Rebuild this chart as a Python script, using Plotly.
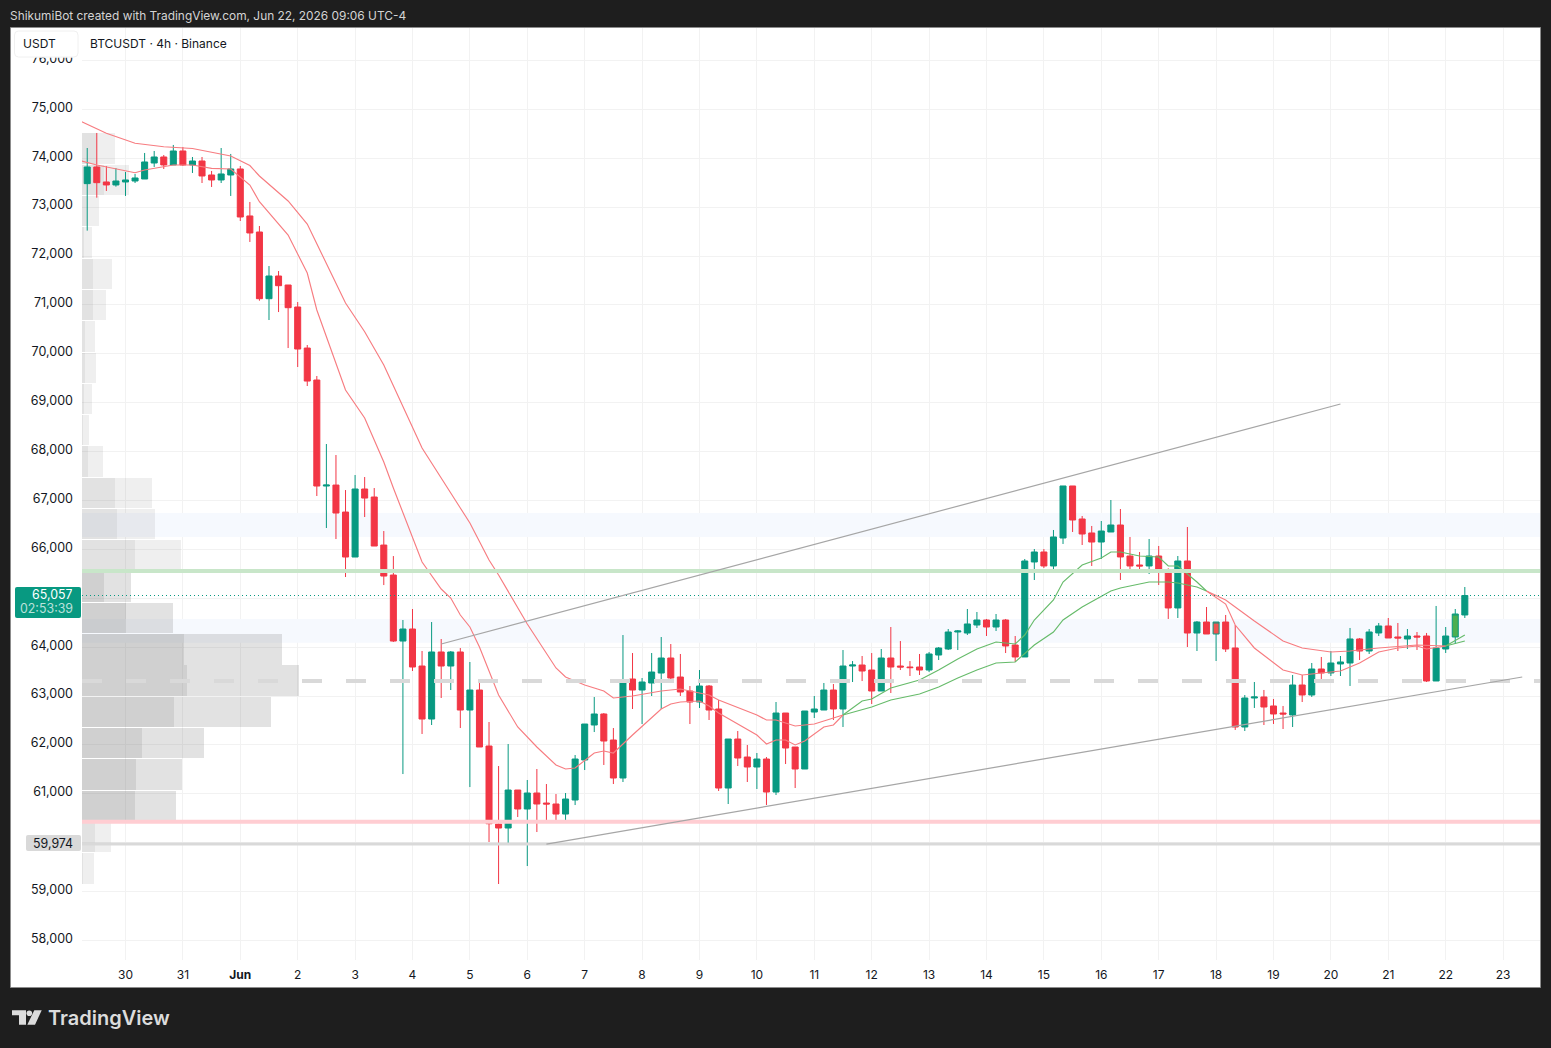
import pandas as pd
import plotly.graph_objects as go

# Four-hour BTCUSDT bars, oldest first
opens = [73480,73821,73514,73453,73514,73534,73575,73902,74025,73862,74148,73862,73943,73657,73555,73657,73780,72819,72491,71127,
         71591,71407,70957,70118,69464,67296,67316,66764,65844,67235,67071,66089,65476,64126,64372,63615,62531,63902,63615,63902,
         62715,63124,61979,60384,60302,61079,60691,61018,60813,60793,60588,60875,61693,62409,62634,62102,61325,63349,63124,63268,
         63472,63779,63390,63104,62879,63206,62736,61120,62122,61754,61550,61713,61038,62654,61959,61509,62674,62715,63124,62736,
         63615,63636,63533,63104,63779,63615,63595,63595,63533,63840,63963,64311,64290,64454,64556,64413,64556,64045,63800,65743,
         65947,65661,66233,67297,66622,66336,66151,66356,66499,65865,65681,65661,65865,65579,64802,65763,64290,64515,64270,64515,
         63984,62368,62961,62982,62798,62654,62614,63227,63023,63554,63473,63657,63677,64168,63922,64291,64434,64209,64168,64229,
         64229,63309,63963,64209,64659]
highs = [74209,74516,73841,73800,73718,73678,74107,74148,74066,74271,74230,74025,74025,73739,74209,74087,73841,73105,72614,71795,
         71693,71407,71059,70180,69546,68155,67930,67214,67521,67480,67255,66376,65864,64556,64781,63922,64515,64167,63922,63983,
         63697,63267,62470,61570,62020,61079,61284,61509,61202,60997,61018,61795,62429,62981,62654,62347,64249,63881,63370,63881,
         64208,64065,63861,63206,63533,63227,62920,62122,62286,62000,61836,61754,62879,62654,61959,62695,63002,63268,63247,63942,
         63717,63820,63881,63963,64413,64126,63717,63861,63902,64004,64372,64351,64781,64720,64577,64679,64577,64229,65804,66008,
         66008,66397,67297,67297,66683,66479,66581,67010,66826,66254,65947,66213,66070,65613,65865,66458,64536,64822,64515,64659,
         64454,63022,63288,63125,62941,62798,63432,63432,63677,63800,63922,63820,64393,64188,64372,64495,64597,64495,64372,64311,
         64291,64843,64413,64781,65231]
lows = [72519,73193,73330,73418,73228,73493,73575,73821,73780,73862,73841,73698,73493,73412,73493,73228,72716,72287,71086,70691,
        70854,70118,69730,69341,67092,66437,66212,65435,65844,66662,66069,65271,64106,61406,63513,62225,62409,62961,63124,62347,
        61140,61959,60016,59157,59954,60527,59525,60220,60466,60466,60466,60772,61488,62265,61591,61202,61243,62736,62429,63002,
        62736,63349,63002,62429,62756,62511,61059,60793,61570,61243,61100,60773,60977,61611,61120,61509,62552,62715,62511,62368,
        63288,63308,62838,63104,63063,63533,63411,63431,63492,63738,63942,63942,64250,64393,64229,64331,63881,63697,63800,65374,
        65620,65599,66111,66356,66090,65661,65804,66356,65374,65599,65599,65497,65272,64577,64597,64004,63922,64270,63718,63902,
        62307,62286,62757,62409,62430,62327,62368,62879,62982,63350,63411,63411,63207,63738,63861,64229,64188,63922,63963,63943,
        63288,63309,63882,64066,64597]
closes = [73821,73500,73453,73534,73555,73596,73923,74025,73862,74148,73862,73943,73637,73555,73678,73780,72798,72471,71127,71591,
          71393,70943,70098,69443,67296,67316,66744,65844,67235,67050,66069,65455,64126,64372,63595,62531,63902,63615,63902,62715,
          63124,61959,60390,60302,61079,60691,61018,60793,60793,60588,60895,61713,62429,62634,62081,61325,63268,63124,63288,63492,
          63779,63370,63084,62879,63206,62715,61120,62122,61734,61550,61713,61038,62654,61938,61509,62695,62736,63124,62736,63615,
          63636,63513,63104,63779,63595,63595,63582,63533,63861,63983,64311,64331,64475,64556,64413,64556,64025,63800,65763,65947,
          65661,66254,67297,66601,66315,66151,66376,66499,65845,65661,65661,65865,65579,64802,65763,64290,64515,64270,64515,63963,
          62368,62961,62982,62777,62634,62634,63227,63023,63554,63473,63677,63698,64168,63922,64311,64434,64188,64188,64229,64209,
          63309,63984,64229,64679,65057]

# Slow average: bar number and price at each vertex (bar -1 sits left of the visible range)
slow_bars = [-1,2,5,8,11,14,15,17,18,21,23,27,29,31,35,39,40,42,43,46,49,50,52,54,55,57,60,62,64,65,66,70,71,72,74,76,78,79,
             82,84,87,89,91,93,95,97,99,101,102,104,107,108,111,113,114,116,117,
             119,122,125,127,130,132,135,139,142,144]
slow_vals = [74787,74509,74305,74235,74198,74080,74045,73851,73636,73125,72654,71039,70452,69771,68074,66847,66540,65783,65476,64474,63575,63391,63227,63104,62961,63002,63104,63145,63063,63022,62920,62613,62511,62511,62389,62429,62552,62613,
             62777,62920,63043,63186,63370,63534,63677,63697,64045,64311,64556,64822,65149,65211,65333,65333,65313,65231,65149,
             64965,64536,64127,63984,63902,63922,63984,64045,64025,64127]

# Fast average on the same scheme
fast_bars = [-1,1,5,6,9,11,13,15,17,18,21,23,24,27,29,31,32,35,37,38,39,40,41,43,45,47,49,50,51,53,54,55,57,60,61,62,64,65,66,70,71,72,73,74,75,77,78,79,
             81,82,84,87,89,91,93,95,97,98,99,101,102,104,106,107,108,110,112,113,114,116,117,
             119,120,122,125,127,131,133,135,137,139,140,142,144]
fast_vals = [73963,73861,73703,73759,73861,73861,73793,73779,73452,73110,72429,71652,70896,69260,68687,67787,67256,65742,65190,65006,64658,64413,64004,63022,62368,61959,61591,61509,61530,61836,61877,61836,62205,62736,62838,62879,62900,62797,62654,62205,62020,62102,62102,62000,62082,62368,62409,62613,
             62900,62941,63166,63329,63534,63759,63963,64106,64066,64249,64556,64965,65333,65681,65824,65947,65947,65865,65845,65661,65661,65333,65149,
             64883,64454,63984,63534,63431,63513,63677,63902,63984,64025,63963,64025,64249]

# Visible-range volume profile, top row first
vp_prices = [74196,73556,72916,72276,71636,70996,70356,69716,69076,68436,67796,67156,66516,65876,65236,64596,63956,63316,62676,62036,61396,60756,60116,59476]
vp_down = [1500,2200,500,200,1100,1100,300,300,200,100,600,3300,3500,5300,2200,4400,10200,10500,9200,6000,5400,5300,1300,100]
vp_up = [1800,2500,1200,800,1900,1300,1000,1100,800,600,1500,3700,3800,4600,2700,4700,9800,11200,9700,6200,4600,4100,1600,1100]
vp_value_area = [14,15,16,17,18,19,20,21]

# Axis ticks; 60,000 and 65,000 stay blank because the price tags sit on them
price_ticks = [58000,59000,60000,61000,62000,63000,64000,65000,66000,67000,68000,69000,70000,71000,72000,73000,74000,75000,76000]
price_labels = ["58,000","59,000","","61,000","62,000","63,000","64,000","","66,000","67,000","68,000","69,000","70,000","71,000","72,000","73,000","74,000","75,000","76,000"]
date_ticks = ["2026-05-30","2026-05-31","2026-06-01","2026-06-02","2026-06-03","2026-06-04","2026-06-05","2026-06-06","2026-06-07","2026-06-08",
              "2026-06-09","2026-06-10","2026-06-11","2026-06-12","2026-06-13","2026-06-14","2026-06-15","2026-06-16","2026-06-17","2026-06-18",
              "2026-06-19","2026-06-20","2026-06-21","2026-06-22","2026-06-23"]
date_labels = ["30","31","<b>Jun</b>","2","3","4","5","6","7","8","9","10","11","12","13","14","15","16","17","18","19","20","21","22","23"]

# Price levels and drawn objects
support_zone_upper = (66254, 66744)
support_zone_lower = (64092, 64577)
level_green = 65558
level_pink = 60431
level_grey = 59974
level_dashed = 63310
last_price = 65057
trend_up = (("2026-06-04 12:00", 64065), ("2026-06-20 04:00", 68973))
trend_base = (("2026-06-06 08:00", 59974), ("2026-06-23 08:00", 63391))

WIDTH, HEIGHT = 1551, 1048
PLOT_L, PLOT_R, PLOT_T, PLOT_B = 82, 1540, 28, 960
DARK = "#1e1e1e"
UP = "#089981"
DOWN = "#f23645"
LINE_RED = "#f77c80"
LINE_GREEN = "#66bb6a"
INK = "#131722"
FONT = "Inter"

def px(x):
    return (x - PLOT_L) / (PLOT_R - PLOT_L)

def py(y):
    return 1 - (y - PLOT_T) / (PLOT_B - PLOT_T)

def round_rect(x0, y0, x1, y1, r):
    X0, X1 = px(x0), px(x1)
    Y0, Y1 = py(y0), py(y1)
    rx, ry = r / (PLOT_R - PLOT_L), r / (PLOT_B - PLOT_T)
    return (f"M{X0 + rx},{Y0} L{X1 - rx},{Y0} Q{X1},{Y0} {X1},{Y0 - ry} L{X1},{Y1 + ry} Q{X1},{Y1} {X1 - rx},{Y1} "
            f"L{X0 + rx},{Y1} Q{X0},{Y1} {X0},{Y1 + ry} L{X0},{Y0 - ry} Q{X0},{Y0} {X0 + rx},{Y0} Z")

bar_times = pd.date_range("2026-05-29 08:00", periods=len(opens), freq="4h")

def bar_time(n):
    return bar_times[0] + pd.Timedelta(hours=4 * n)

fig = go.Figure()

# Volume profile on the base axes, so every price series paints over it
vp_down_colors = ["rgba(120,120,120,0.35)" if i in vp_value_area else "rgba(120,120,120,0.21)" for i in range(len(vp_prices))]
vp_up_colors = ["rgba(120,120,120,0.21)" if i in vp_value_area else "rgba(120,120,120,0.12)" for i in range(len(vp_prices))]
fig.add_bar(x=vp_down, y=vp_prices, orientation="h", width=620, xaxis="x", yaxis="y",
            marker=dict(color=vp_down_colors, line_width=0))
fig.add_bar(x=vp_up, y=vp_prices, orientation="h", width=620, xaxis="x", yaxis="y",
            marker=dict(color=vp_up_colors, line_width=0))

# Candles: two flagged bars get their own fill, the rest share the standard colours
flagged = {118: "#ef5350", 143: "#4caf50"}
plain = [i for i in range(len(opens)) if i not in flagged]
fig.add_candlestick(
    x=[bar_times[i] for i in plain],
    open=[opens[i] for i in plain], high=[highs[i] for i in plain],
    low=[lows[i] for i in plain], close=[closes[i] for i in plain],
    xaxis="x2", yaxis="y", whiskerwidth=0,
    increasing=dict(line=dict(color=UP, width=1), fillcolor=UP),
    decreasing=dict(line=dict(color=DOWN, width=1), fillcolor=DOWN),
)
for i, fill in flagged.items():
    fig.add_candlestick(
        x=[bar_times[i]], open=[opens[i]], high=[highs[i]], low=[lows[i]], close=[closes[i]],
        xaxis="x2", yaxis="y", whiskerwidth=0,
        increasing=dict(line=dict(color=UP, width=1), fillcolor=fill),
        decreasing=dict(line=dict(color=UP, width=1), fillcolor=fill),
    )

# Moving averages change colour with trend direction
regimes = [(-1, 79, LINE_RED), (79, 117, LINE_GREEN), (117, 142, LINE_RED), (142, 144, LINE_GREEN)]
for bars, vals in ((slow_bars, slow_vals), (fast_bars, fast_vals)):
    for start, stop, colour in regimes:
        part = [(b, v) for b, v in zip(bars, vals) if start <= b <= stop]
        fig.add_scatter(x=[bar_time(b) for b, _ in part], y=[v for _, v in part], mode="lines",
                        xaxis="x2", yaxis="y", line=dict(color=colour, width=1.15), hoverinfo="skip")

shapes = [
    # panel behind the plot and its axis labels
    dict(type="rect", xref="paper", yref="paper", x0=px(10.5), x1=px(1540.5), y0=py(27.5), y1=py(987.5),
         fillcolor="white", line=dict(color="#8c8c8c", width=1), layer="below"),
    # shaded price zones
    dict(type="rect", xref="x", yref="y", x0=0, x1=145800, y0=support_zone_upper[0], y1=support_zone_upper[1],
         fillcolor="#f6f9fe", line_width=0, layer="between"),
    dict(type="rect", xref="x", yref="y", x0=0, x1=145800, y0=support_zone_lower[0], y1=support_zone_lower[1],
         fillcolor="#f6f9fe", line_width=0, layer="between"),
    # horizontal levels
    dict(type="line", xref="paper", yref="y", x0=0, x1=1, y0=level_dashed, y1=level_dashed,
         line=dict(color="#d9d9d9", width=4, dash="20px,24px")),
    dict(type="line", xref="paper", yref="y", x0=0, x1=1, y0=level_grey, y1=level_grey,
         line=dict(color="#d9d9d9", width=3)),
    dict(type="line", xref="paper", yref="y", x0=0, x1=1, y0=level_pink, y1=level_pink,
         line=dict(color="#ffcdd2", width=4)),
    dict(type="line", xref="paper", yref="y", x0=0, x1=1, y0=level_green, y1=level_green,
         line=dict(color="#c8e6c9", width=4)),
    dict(type="line", xref="paper", yref="y", x0=0, x1=1, y0=last_price, y1=last_price,
         line=dict(color=UP, width=1, dash="1px,3px")),
    # trend lines
    dict(type="line", xref="x2", yref="y", x0=trend_up[0][0], y0=trend_up[0][1], x1=trend_up[1][0], y1=trend_up[1][1],
         line=dict(color="#a6a6a6", width=1.2)),
    dict(type="line", xref="x2", yref="y", x0=trend_base[0][0], y0=trend_base[0][1], x1=trend_base[1][0], y1=trend_base[1][1],
         line=dict(color="#a6a6a6", width=1.2)),
    # header mask and scale button over the top of the price labels
    dict(type="rect", xref="paper", yref="paper", x0=px(11), x1=px(82), y0=py(28), y1=py(57.5),
         fillcolor="white", line_width=0),
    dict(type="path", xref="paper", yref="paper", path=round_rect(14.5, 31, 78, 57, 4),
         fillcolor="white", line=dict(color="#f0f0f0", width=1)),
    # price tags on the axis
    dict(type="path", xref="paper", yref="paper", path=round_rect(15, 587, 81, 618, 2), fillcolor=UP, line_width=0),
    dict(type="path", xref="paper", yref="paper", path=round_rect(26, 835, 81, 851, 2), fillcolor="#d9d9d9", line_width=0),
    # logo mark
    dict(type="path", xref="paper", yref="paper", fillcolor="#dcdcdc", line_width=0,
         path=f"M{px(12)},{py(1010.3)} L{px(26)},{py(1010.3)} L{px(26)},{py(1024.7)} L{px(19)},{py(1024.7)} L{px(19)},{py(1015.3)} L{px(12)},{py(1015.3)} Z"),
    dict(type="circle", xref="paper", yref="paper", x0=px(26.5), x1=px(32.1), y0=py(1010.5), y1=py(1016.1),
         fillcolor="#dcdcdc", line_width=0),
    dict(type="path", xref="paper", yref="paper", fillcolor="#dcdcdc", line_width=0,
         path=f"M{px(34.3)},{py(1010.3)} L{px(41.7)},{py(1010.3)} L{px(35)},{py(1024.7)} L{px(27.3)},{py(1024.7)} Z"),
]

def label(x, y, text, size=12, color=INK, anchor="left", weight=None, box_height=None):
    font = dict(family=FONT, size=size, color=color)
    if weight:
        font["weight"] = weight
    item = dict(xref="paper", yref="paper", x=px(x), y=py(y), text=text, showarrow=False,
                xanchor=anchor, yanchor="middle", font=font, align=anchor, borderpad=0)
    if box_height:
        item["height"] = box_height
    return item

annotations = [
    label(9, 15, "ShikumiBot created with TradingView.com, Jun 22, 2026 09:06 UTC-4", size=11.9, color="#d4d4d4"),
    label(22, 43.5, "USDT"),
    label(89, 43, "BTCUSDT · 4h · Binance"),
    label(74, 594.3, f"{last_price:,}", size=12.4, color="#ffffff", anchor="right", box_height=13),
    label(74, 608.3, "02:53:39", size=12.4, color="rgba(255,255,255,0.72)", anchor="right", box_height=13),
    label(74, 843, f"{level_grey:,}", size=12.4, anchor="right"),
    label(47, 1018, "TradingView", size=20, color="#dcdcdc", weight=600),
]

fig.update_layout(
    width=WIDTH, height=HEIGHT, autosize=False,
    paper_bgcolor=DARK, plot_bgcolor="white",
    margin=dict(l=PLOT_L, r=WIDTH - PLOT_R, t=PLOT_T, b=HEIGHT - PLOT_B, pad=0),
    barmode="stack", boxgap=0.37, boxgroupgap=0, showlegend=False, hovermode=False,
    font=dict(family=FONT, size=12, color=INK),
    xaxis=dict(range=[0, 145800], visible=False, fixedrange=True),
    xaxis2=dict(overlaying="x", anchor="y", side="bottom", type="date",
                range=["2026-05-29 05:49", "2026-06-23 15:26"],
                tickmode="array", tickvals=date_ticks, ticktext=date_labels,
                showgrid=True, gridcolor="#f2f2f2", gridwidth=1, zeroline=False, showline=False,
                ticks="", ticklabelstandoff=6, tickfont=dict(family=FONT, size=12, color=INK),
                rangeslider=dict(visible=False)),
    yaxis=dict(range=[57603, 76663], tickmode="array", tickvals=price_ticks, ticktext=price_labels,
               showgrid=True, gridcolor="#f2f2f2", gridwidth=1, zeroline=False, showline=False,
               ticks="", ticklabelstandoff=8, ticklabelshift=-2, tickfont=dict(family=FONT, size=12.5, color=INK), anchor="x"),
    shapes=shapes, annotations=annotations,
)

fig.write_html("out.html", config=dict(displayModeBar=False))
